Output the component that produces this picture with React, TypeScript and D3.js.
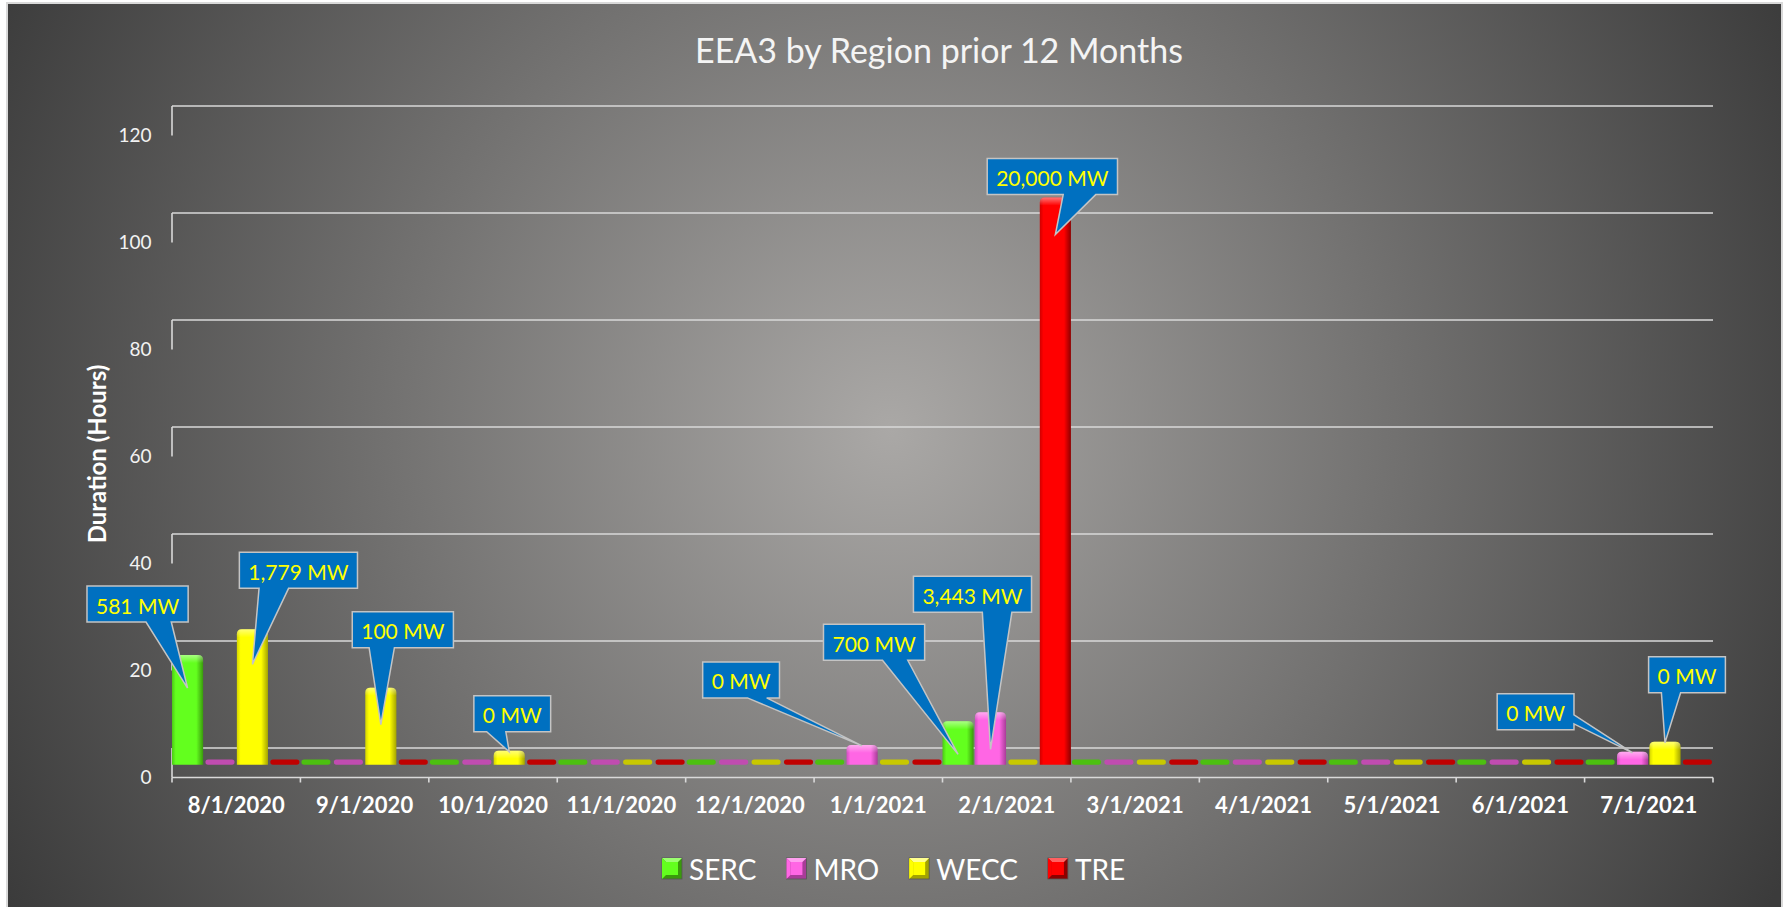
import React from 'react';
import * as d3 from 'd3';

// month categories and hours per region
const months = [
  '8/1/2020', '9/1/2020', '10/1/2020', '11/1/2020', '12/1/2020', '1/1/2021',
  '2/1/2021', '3/1/2021', '4/1/2021', '5/1/2021', '6/1/2021', '7/1/2021',
];
const regions = ['SERC', 'MRO', 'WECC', 'TRE'];
const sercHours = [20.5, 0, 0, 0, 0, 0, 8.1, 0, 0, 0, 0, 0];
const mroHours = [0, 0, 0, 0, 0, 3.7, 9.8, 0, 0, 0, 0, 2.4];
const weccHours = [25.3, 14.4, 2.6, 0, 0, 0, 0, 0, 0, 0, 0, 4.3];
const treHours = [0, 0, 0, 0, 0, 0, 106, 0, 0, 0, 0, 0];
const yTicks = [0, 20, 40, 60, 80, 100, 120];

// callout labels (MW) and the bar each one points at
const calloutTexts = ['581 MW', '1,779 MW', '100 MW', '0 MW', '0 MW', '700 MW', '3,443 MW', '20,000 MW', '0 MW', '0 MW'];
const calloutMonths = ['8/1/2020', '8/1/2020', '9/1/2020', '10/1/2020', '1/1/2021', '2/1/2021', '2/1/2021', '2/1/2021', '7/1/2021', '7/1/2021'];
const calloutRegions = ['SERC', 'WECC', 'WECC', 'WECC', 'MRO', 'SERC', 'MRO', 'TRE', 'MRO', 'WECC'];
// box placement relative to the pointer tip: [dx, dy, depth of tip into bar]
const calloutPlacement = [
  [-50, -84, 33], [46, -94, 35], [22, -95, 37], [3, -38, 1], [-121, -66, 1],
  [-84, -112, 33], [-18, -155, 37], [-3, -58, 37], [-97, -41, 1], [22, -68, 1],
];

const hoursBy: Record<string, number[]> = {
  SERC: sercHours,
  MRO: mroHours,
  WECC: weccHours,
  TRE: treHours,
};

const colors: Record<string, { l: string; m: string; r: string; flat: string; hi: string }> = {
  SERC: { l: '#4cc816', m: '#63ff1e', r: '#3a9a0c', flat: '#4cc010', hi: '#9bff70' },
  MRO: { l: '#d04ec0', m: '#ff66e4', r: '#a83c98', flat: '#c04cb0', hi: '#ffa0f0' },
  WECC: { l: '#d4d400', m: '#ffff00', r: '#a4a400', flat: '#c8c800', hi: '#ffff90' },
  TRE: { l: '#d00000', m: '#ff0000', r: '#8c0000', flat: '#c00000', hi: '#ff6060' },
};

const FONT = 'Lato, "Open Sans", sans-serif';

let ctx: CanvasRenderingContext2D | null = null;
function textWidth(t: string, font: string) {
  if (!ctx) ctx = document.createElement('canvas').getContext('2d');
  if (!ctx) return t.length * 10;
  ctx.font = font;
  return ctx.measureText(t).width;
}

// Office wedgeRectCallout outline
function calloutPath(cx: number, cy: number, w: number, h: number, tx: number, ty: number) {
  const L = cx - w / 2, T = cy - h / 2, R = cx + w / 2, B = cy + h / 2;
  const dx = tx - cx, dy = ty - cy;
  const pts: [number, number][] = [];
  const vertical = Math.abs(dy) * w > Math.abs(dx) * h;
  const x1 = L + (w * (dx > 0 ? 7 : 2)) / 12, x2 = L + (w * (dx > 0 ? 10 : 5)) / 12;
  const y1 = T + (h * (dy > 0 ? 7 : 2)) / 12, y2 = T + (h * (dy > 0 ? 10 : 5)) / 12;
  pts.push([L, T]);
  if (vertical && dy < 0) pts.push([x1, T], [tx, ty], [x2, T]);
  pts.push([R, T]);
  if (!vertical && dx > 0) pts.push([R, y1], [tx, ty], [R, y2]);
  pts.push([R, B]);
  if (vertical && dy > 0) pts.push([x2, B], [tx, ty], [x1, B]);
  pts.push([L, B]);
  if (!vertical && dx < 0) pts.push([L, y2], [tx, ty], [L, y1]);
  return 'M' + pts.map((p) => p.join(',')).join('L') + 'Z';
}

export default function App() {
  const width = 1785;
  const height = 907;

  const x = d3.scaleBand<string>().domain(months).range([172, 1713]);
  const xs = d3.scaleBand<string>().domain(regions).range([0, x.bandwidth()]).paddingInner(0.04);
  const y = d3.scaleLinear().domain([0, 120]).range([764.7, 122.7]);
  const back = -16.7; // back wall offset
  const depth = 29.5; // floor depth
  const frontY = y(0) + back + depth;

  const barTop = (r: string, m: string) => y(hoursBy[r][months.indexOf(m)]);
  const barX = (r: string, m: string) => (x(m) as number) + (xs(r) as number);

  // legend layout
  const legendFont = `28px ${FONT}`;
  let lx = 662;
  const legendItems = regions.map((r) => {
    const item = { r, x: lx };
    lx += 27 + textWidth(r, legendFont) + 30;
    return item;
  });

  const calloutFont = `21px ${FONT}`;

  return (
    <div style={{ position: 'absolute', left: 0, top: 0 }}>
      <svg width={width} height={height} style={{ display: 'block' }} fontFamily={FONT}>
        <defs>
          <radialGradient id="bg" gradientUnits="userSpaceOnUse" cx={890} cy={430} r={1000}>
            <stop offset="0" stopColor="#aaa8a6" />
            <stop offset="1" stopColor="#3b3b3b" />
          </radialGradient>
          {regions.map((r) => (
            <linearGradient key={r} id={`g-${r}`} x1="0" x2="1" y1="0" y2="0">
              <stop offset="0" stopColor={colors[r].l} />
              <stop offset="0.12" stopColor={colors[r].m} />
              <stop offset="0.78" stopColor={colors[r].m} />
              <stop offset="1" stopColor={colors[r].r} />
            </linearGradient>
          ))}
          <linearGradient id="cap" x1="0" x2="0" y1="0" y2="1">
            <stop offset="0" stopColor="#fff" stopOpacity="0.45" />
            <stop offset="1" stopColor="#fff" stopOpacity="0" />
          </linearGradient>
        </defs>
        <rect x={0} y={0} width={width} height={height} fill="#fff" />
        <rect x={7} y={3} width={1775} height={930} fill="url(#bg)" stroke="#d9d9d9" strokeWidth={2} />

        <text x={939} y={63} textAnchor="middle" fontSize={34} fill="#f4f4f4">
          EEA3 by Region prior 12 Months
        </text>

        {/* back wall gridlines with the side drop */}
        {yTicks.map((t) => (
          <g key={t} stroke="#d9d9d9" strokeWidth={1.6} fill="none">
            <line x1={172} x2={1713} y1={y(t) + back} y2={y(t) + back} />
            <line x1={172} x2={172} y1={y(t) + back} y2={y(t) + back + depth} />
          </g>
        ))}
        {/* front floor edge */}
        <line x1={172} x2={1713} y1={frontY} y2={frontY} stroke="#d9d9d9" strokeWidth={1.6} />
        {[...months.map((m) => x(m) as number), 1713].map((v, i) => (
          <line key={i} x1={v} x2={v} y1={frontY} y2={frontY + 5} stroke="#d9d9d9" strokeWidth={1.6} />
        ))}

        {yTicks.map((t) => (
          <text key={t} x={151.5} y={y(t) + 12} textAnchor="end" dominantBaseline="central" fontSize={19} fill="#f2f2f2">
            {t}
          </text>
        ))}

        {months.map((m) => (
          <text key={m} x={(x(m) as number) + x.bandwidth() / 2} y={813} textAnchor="middle" fontSize={22} fontWeight="bold" fill="#fff">
            {m}
          </text>
        ))}

        <text transform="translate(106,454) rotate(-90)" textAnchor="middle" fontSize={24} fontWeight="bold" fill="#fff">
          Duration (Hours)
        </text>

        {/* bars */}
        {regions.map((r) =>
          months.map((m, i) => {
            const v = hoursBy[r][i];
            const x0 = barX(r, m);
            const bw = xs.bandwidth();
            if (v === 0) {
              return (
                <rect key={r + m} x={x0 + 1} y={y(0) - 5.2} width={bw - 2} height={5.2} rx={2.6} fill={colors[r].flat} />
              );
            }
            const yt = y(v);
            const yb = y(0);
            const x1 = x0 + bw;
            const rr = 5;
            const body = `M${x0},${yb}L${x0},${yt + rr}Q${x0},${yt} ${x0 + rr},${yt}L${x1 - rr},${yt}Q${x1},${yt} ${x1},${yt + rr}L${x1},${yb}Z`;
            const cap = `M${x0},${yt + 8}L${x0},${yt + rr}Q${x0},${yt} ${x0 + rr},${yt}L${x1 - rr},${yt}Q${x1},${yt} ${x1},${yt + rr}L${x1},${yt + 8}Z`;
            return (
              <g key={r + m}>
                <path d={body} fill={`url(#g-${r})`} />
                <path d={cap} fill="url(#cap)" />
              </g>
            );
          })
        )}

        {/* callouts */}
        {calloutTexts.map((t, i) => {
          const m = calloutMonths[i];
          const r = calloutRegions[i];
          const [dx, dy, dd] = calloutPlacement[i];
          const tx = barX(r, m) + xs.bandwidth() / 2;
          const ty = barTop(r, m) + dd;
          const cx = tx + dx;
          const cy = ty + dy;
          const w = textWidth(t, calloutFont) + 18;
          const h = 36;
          return (
            <g key={i}>
              <path d={calloutPath(cx, cy, w, h, tx, ty)} fill="#0070c0" stroke="#c4c4c4" strokeWidth={1.5} />
              <text x={cx} y={cy + 1} textAnchor="middle" dominantBaseline="central" fontSize={21} fill="#ffff00">
                {t}
              </text>
            </g>
          );
        })}

        {/* legend with bevelled markers */}
        {legendItems.map(({ r, x: lxi }) => (
          <g key={r}>
            <rect x={lxi} y={858} width={20} height={21} fill={colors[r].r} stroke="#555" strokeWidth={0.8} />
            <path d={`M${lxi},858L${lxi + 20},858L${lxi + 16},862L${lxi + 4},862Z`} fill={colors[r].hi} />
            <path d={`M${lxi},858L${lxi + 4},862L${lxi + 4},875L${lxi},879Z`} fill={colors[r].m} />
            <rect x={lxi + 4} y={862} width={12} height={13} fill={colors[r].m} />
            <text x={lxi + 27} y={869} dominantBaseline="central" fontSize={28} fill="#fff">
              {r}
            </text>
          </g>
        ))}
      </svg>
    </div>
  );
}
